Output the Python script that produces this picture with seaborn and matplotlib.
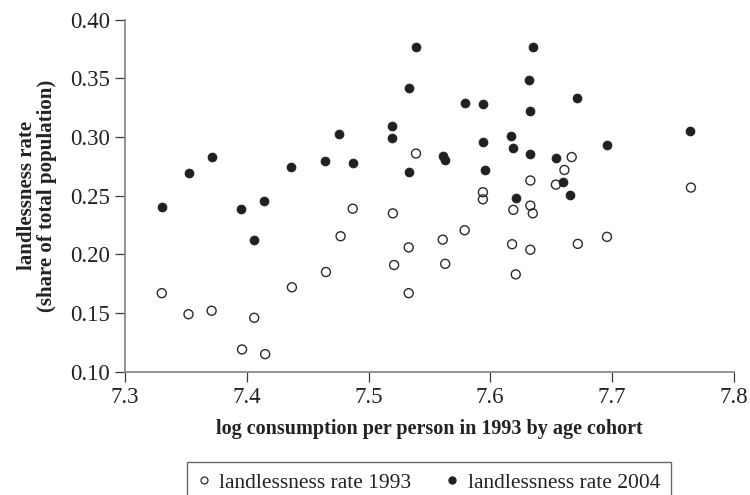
import numpy as np
import matplotlib
matplotlib.use("Agg")
import matplotlib.pyplot as plt
import pandas as pd
import seaborn as sns
from matplotlib.lines import Line2D

# log consumption per person (x) and landlessness rate (y)
cons_1993 = [7.330, 7.352, 7.371, 7.396, 7.406, 7.415, 7.437, 7.465, 7.477, 7.487,
             7.520, 7.521, 7.533, 7.533, 7.539, 7.561, 7.563, 7.579, 7.594, 7.594,
             7.618, 7.619, 7.621, 7.633, 7.633, 7.633, 7.635, 7.654, 7.661, 7.667,
             7.672, 7.696, 7.765]
land_1993 = [0.167, 0.149, 0.152, 0.119, 0.146, 0.115, 0.172, 0.185, 0.2155, 0.239,
             0.235, 0.191, 0.206, 0.167, 0.286, 0.2126, 0.192, 0.2206, 0.253, 0.247,
             0.2087, 0.238, 0.183, 0.2416, 0.263, 0.204, 0.235, 0.2595, 0.272, 0.283,
             0.209, 0.215, 0.257]

cons_2004 = [7.330, 7.352, 7.371, 7.395, 7.406, 7.414, 7.436, 7.464, 7.476, 7.487,
             7.519, 7.519, 7.533, 7.533, 7.539, 7.561, 7.563, 7.579, 7.594, 7.594,
             7.596, 7.617, 7.619, 7.621, 7.635, 7.632, 7.633, 7.633, 7.654, 7.660,
             7.666, 7.671, 7.696, 7.764]
land_2004 = [0.2405, 0.2695, 0.283, 0.239, 0.212, 0.2456, 0.2746, 0.2797, 0.3028, 0.2783,
             0.3096, 0.2996, 0.342, 0.270, 0.377, 0.284, 0.2806, 0.3295, 0.328, 0.2957,
             0.2723, 0.3008, 0.291, 0.248, 0.377, 0.349, 0.3226, 0.2854, 0.282, 0.262,
             0.2505, 0.333, 0.293, 0.3056]

x_ticks = [7.3, 7.4, 7.5, 7.6, 7.7, 7.8]
y_ticks = [0.10, 0.15, 0.20, 0.25, 0.30, 0.35, 0.40]

df93 = pd.DataFrame({"cons": cons_1993, "land": land_1993})
df04 = pd.DataFrame({"cons": cons_2004, "land": land_2004})

sns.set_style("white")
plt.rcParams["font.family"] = ["Liberation Serif", "DejaVu Serif"]

fig, ax = plt.subplots(figsize=(7.5, 4.95), dpi=100)
fig.subplots_adjust(left=0.167, right=0.978, bottom=0.249, top=0.96)

sns.scatterplot(data=df93, x="cons", y="land", ax=ax, s=42, marker="o",
                facecolors="none", edgecolor="#2b2b2b", linewidth=1.0)
sns.scatterplot(data=df04, x="cons", y="land", ax=ax, s=42, marker="o",
                color="#231f20", edgecolor="#231f20", linewidth=0.5)

ax.set_xlim(7.3, 7.8)
ax.set_ylim(0.10, 0.40)
ax.set_xticks(x_ticks)
ax.set_xticklabels([f"{v:.1f}" for v in x_ticks])
ax.set_yticks(y_ticks)
ax.set_yticklabels([f"{v:.2f}" for v in y_ticks])

for side in ["top", "right"]:
    ax.spines[side].set_visible(False)
for side in ["left", "bottom"]:
    ax.spines[side].set_color("#8a8a8a")
    ax.spines[side].set_linewidth(1.3)

ax.tick_params(axis="both", direction="out", length=7.5, width=0.9, color="#3a3a3a",
               labelsize=16.5, labelcolor="#222222", pad=3.5)
ax.tick_params(axis="x", bottom=True)
ax.tick_params(axis="y", left=True)

ax.set_xlabel("log consumption per person in 1993 by age cohort",
              fontsize=14.5, fontweight="bold", color="#222222", labelpad=8)
ax.set_ylabel("landlessness rate\n(share of total population)",
              fontsize=15, fontweight="bold", color="#222222", labelpad=9,
              linespacing=1.0)

handles = [
    Line2D([], [], marker="o", linestyle="none", markersize=5,
           markerfacecolor="none", markeredgecolor="#2b2b2b", markeredgewidth=0.9),
    Line2D([], [], marker="o", linestyle="none", markersize=5,
           markerfacecolor="#231f20", markeredgecolor="#231f20"),
]
fig.legend(handles, ["landlessness rate 1993", "landlessness rate 2004"],
           loc="upper center", bbox_to_anchor=(0.572, 0.067), ncol=2,
           frameon=True, fancybox=False, edgecolor="#444444", fontsize=15.5,
           handlelength=0.6, handletextpad=0.4, columnspacing=1.6,
           borderpad=0.5, borderaxespad=0, labelcolor="#222222")

fig.savefig("out.png", dpi=100)
